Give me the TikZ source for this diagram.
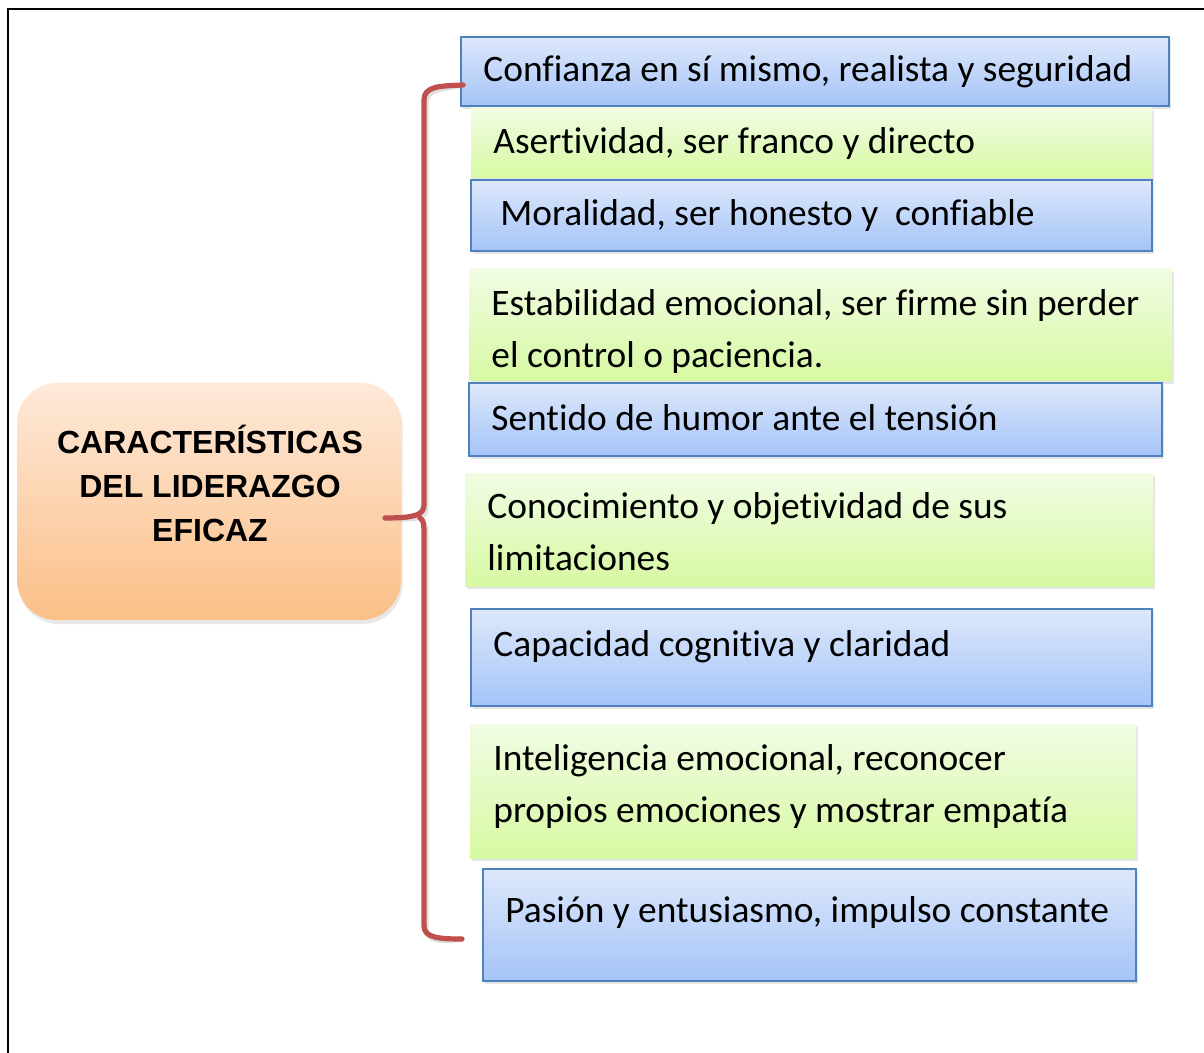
\documentclass[tikz,border=0pt]{standalone}
\usepackage{fontspec}
\setmainfont{Carlito}[Ligatures=NoCommon]
\newfontfamily\titlefont{Liberation Sans}
\usetikzlibrary{shadows,calc}
\definecolor{bluetop}{HTML}{DDE8FB}
\definecolor{bluebot}{HTML}{A5C4F8}
\definecolor{blueline}{HTML}{4F81BD}
\definecolor{greentop}{HTML}{F1FCE4}
\definecolor{greenbot}{HTML}{D7F9A2}
\definecolor{orangetop}{HTML}{FEE9D9}
\definecolor{orangebot}{HTML}{FBBF87}
\definecolor{bracered}{HTML}{C0504D}
\tikzset{
  px/.style={x=0.5pt,y=-0.5pt},
  boxbase/.style={anchor=north west,inner sep=0pt,outer sep=0pt,
    drop shadow={shadow xshift=1.2pt,shadow yshift=-1.6pt,opacity=0.2}},
  bluebox/.style={boxbase,draw=blueline,line width=1pt,top color=bluetop,bottom color=bluebot},
  greenbox/.style={boxbase,top color=greentop,bottom color=greenbot},
  itemtext/.style={anchor=base west,inner sep=0pt,align=left,
    font=\fontsize{18.7}{26}\selectfont},
  centerbox/.style={anchor=north west,inner sep=0pt,outer sep=0pt,rounded corners=20pt,
    top color=orangetop,bottom color=orangebot,
    drop shadow={shadow xshift=0.8pt,shadow yshift=-2pt,opacity=0.18}},
  titletext/.style={anchor=base,inner sep=0pt,align=center,
    font=\titlefont\bfseries\fontsize{16}{22}\selectfont},
  bracestyle/.style={draw=bracered,line width=2.6pt,line cap=round,line join=round},
  braceshadow/.style={draw=black!25,line width=2.6pt,line cap=round,line join=round,opacity=0.5},
  frame/.style={draw=black,line width=1.1pt}
}
\begin{document}
\begin{tikzpicture}[px]
\useasboundingbox (0,0) rectangle (1204,1053);
\fill[white] (0,0) rectangle (1204,1053);
% frame (top and left visible)
\coordinate (fa) at (8,1053);
\coordinate (fb) at (8,9);
\coordinate (fc) at (1204,9);
\draw[frame] (fa) -- (fb) -- (fc);

% central node
\node[centerbox,minimum width=192pt,minimum height=118.5pt] (c) at (17,383) {};
\node[titletext] (ctext) at (210,541) {CARACTERÍSTICAS\\DEL LIDERAZGO\\EFICAZ};

% item boxes
\node[bluebox,minimum width=354pt,minimum height=34.5pt] (b1) at (461,37) {};
\node[itemtext] (t1) at (483,82) {Confianza en sí mismo, realista y seguridad};
\node[greenbox,minimum width=340.5pt,minimum height=35pt] (b2) at (471,108) {};
\node[itemtext] (t2) at (493,154) {Asertividad, ser franco y directo};
\node[bluebox,minimum width=340.5pt,minimum height=35.5pt] (b3) at (471,180) {};
\node[itemtext] (t3) at (500,226) {Moralidad, ser honesto y\ \ confiable};
\node[greenbox,minimum width=351.5pt,minimum height=56pt] (b4) at (469,269) {};
\node[itemtext] (t4) at (491,368) {Estabilidad emocional, ser firme sin perder\\el control o paciencia.};
\node[bluebox,minimum width=346.5pt,minimum height=36.5pt] (b5) at (469,383) {};
\node[itemtext] (t5) at (491,430) {Sentido de humor ante el tensión};
\node[greenbox,minimum width=344pt,minimum height=56.5pt] (b6) at (465,473) {};
\node[itemtext] (t6) at (487,570) {Conocimiento y objetividad de sus\\limitaciones};
\node[bluebox,minimum width=340.5pt,minimum height=48.5pt] (b7) at (471,609) {};
\node[itemtext] (t7) at (493,656) {Capacidad cognitiva y claridad};
\node[greenbox,minimum width=333pt,minimum height=67pt] (b8) at (470,724) {};
\node[itemtext] (t8) at (493,822) {Inteligencia emocional, reconocer\\propios emociones y mostrar empatía};
\node[bluebox,minimum width=326.5pt,minimum height=56pt] (b9) at (483,869) {};
\node[itemtext] (t9) at (505,922) {Pasión y entusiasmo, impulso constante};

% brace connecting centre to the list
\coordinate (btop) at ($(b1.north west)+(1pt,-24pt)$);
\coordinate (bbot) at ($(b9.north west)+(-10.5pt,-35pt)$);
\coordinate (btip) at (385,518);
\coordinate (bjoin) at (420,518);
\draw[braceshadow,shift={(1pt,-1.5pt)}] (btop) .. controls (440,86) and (424,86) .. (424,100)
  -- (424,504) .. controls (424,514) and (418,518) .. (btip)
  (bjoin) .. controls (424,520) and (424,526) .. (424,534)
  -- (424,926) .. controls (424,938) and (440,939) .. (bbot);
\draw[bracestyle] (btop) .. controls (440,86) and (424,86) .. (424,100)
  -- (424,504) .. controls (424,514) and (418,518) .. (btip)
  (bjoin) .. controls (424,520) and (424,526) .. (424,534)
  -- (424,926) .. controls (424,938) and (440,939) .. (bbot);
\end{tikzpicture}
\end{document}
